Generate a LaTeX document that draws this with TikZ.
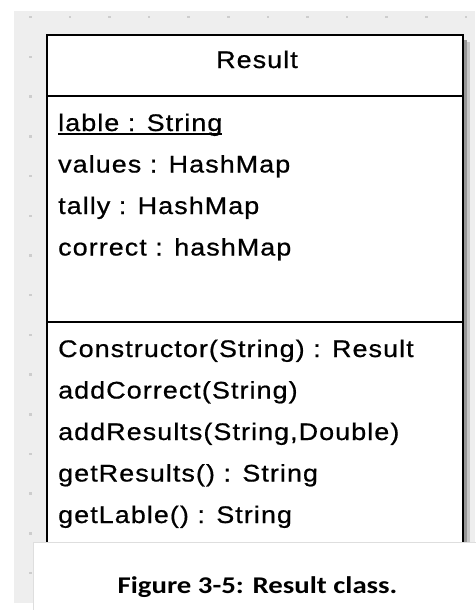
\documentclass[tikz,border=0pt]{standalone}
\usepackage{fontspec}
\setmainfont{Liberation Sans}
\newfontfamily\umlfont[FakeStretch=1.12, LetterSpace=4.5, FakeBold=0.7]{Liberation Sans}
\newfontfamily\capfont[FakeStretch=1.2]{Carlito}
\usepackage{tikz}
\usetikzlibrary{positioning}
\usepackage{xcolor}
\definecolor{canvasgray}{RGB}{238,238,238}
\definecolor{dotgray}{RGB}{205,205,205}
\definecolor{panelline}{RGB}{222,222,222}
\definecolor{shadowdark}{RGB}{150,150,150}
\definecolor{shadowlight}{RGB}{200,200,200}
\tikzset{
  member/.style={anchor=base west, inner sep=0pt, font=\umlfont\fontsize{24}{24}\selectfont},
  classname/.style={anchor=base, inner sep=0pt, font=\umlfont\fontsize{24}{24}\selectfont},
  figcaption/.style={anchor=base, inner sep=0pt, font=\capfont\bfseries\fontsize{24}{24}\selectfont},
}

\begin{document}
\begin{tikzpicture}[x=1pt, y=-1pt]
\useasboundingbox (0,0) rectangle (475,610);

% Canvas with grid dots
\fill[canvasgray] (14,11) rectangle (475,603);
\foreach \i in {0,...,11}
  \foreach \j in {0,...,14}
    \fill[dotgray] ({29+39.6*\i},{16+39.7*\j}) rectangle +(2.5,2.5);

% Drop shadow
\fill[shadowlight] (463,42) rectangle (470,575);
\fill[shadowdark] (463,40) rectangle (466.5,575);

% Class box
\draw[line width=2pt, fill=white] (46.5,35) rectangle (462.5,575);
\draw[line width=1.5pt] (46.5,96) -- (462.5,96);
\draw[line width=1.5pt] (46.5,322) -- (462.5,322);

% Name
\node[classname] (name) at (257,68) {Result};

% Attributes
\node[member] (lable) at (58,131) {lable : String};
\draw[line width=1.6pt] ([yshift=-3pt]lable.base west) -- ([yshift=-3pt,xshift=-1pt]lable.base east);
\node[member] (values) at (58,172.5) {values : HashMap};
\node[member] (tally) at (58,214) {tally : HashMap};
\node[member] (correct) at (58,255.5) {correct : hashMap};

% Operations
\node[member] (ctor) at (58,357) {Constructor(String) : Result};
\node[member] (addcorrect) at (58,398.5) {addCorrect(String)};
\node[member] (addresults) at (58,440) {addResults(String,Double)};
\node[member] (getresults) at (58,481.5) {getResults() : String};
\node[member] (getlable) at (58,523) {getLable() : String};

% Caption
\draw[panelline, fill=white] (33,542) rectangle (476,611);
\node[figcaption] (caption) at (257.5,593) {Figure 3-5: Result class.};
\end{tikzpicture}
\end{document}
